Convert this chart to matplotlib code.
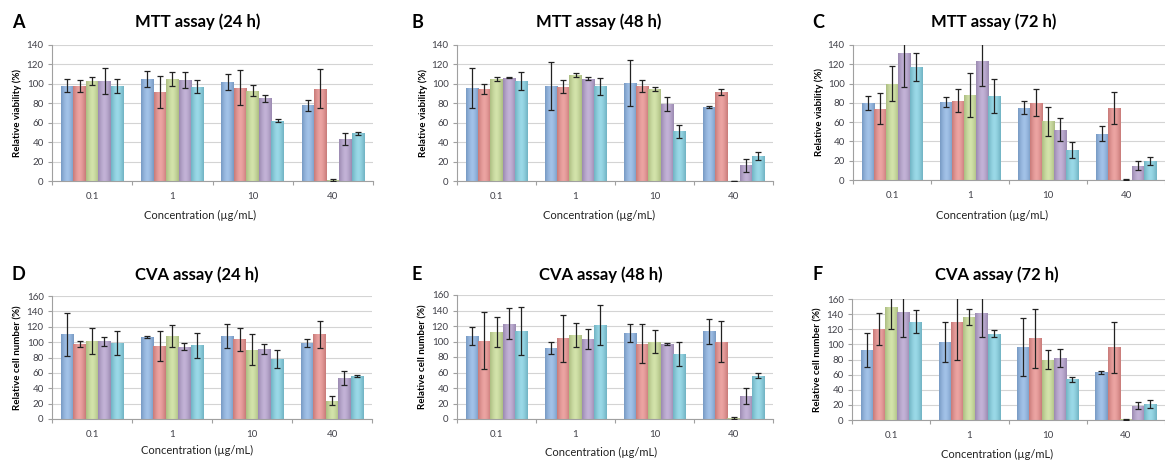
import numpy as np
import matplotlib
matplotlib.use("Agg")
import matplotlib.pyplot as plt
from matplotlib.colors import to_rgb

plt.rcParams['font.family'] = ['Lato', 'DejaVu Sans']

concs = ["0.1", "1", "10", "40"]
bar_colors = ['#8BB3E3', '#E88E8C', '#C8DC96', '#B4A0CD', '#82D0E2']

# MTT assay 24 h (blue, red, green, purple, cyan)
mtt24 = [[98, 105, 102, 78], [98, 92, 96, 95], [103, 105, 93, 1.5],
         [103, 104, 85, 43], [98, 97, 62, 49]]
mtt24_err = [[6.5, 8, 8.5, 5.5], [6, 16.5, 18, 20], [4.5, 7, 6, 1],
             [13, 8.5, 4, 6], [7, 6.5, 1.5, 1.5]]

# MTT assay 48 h
mtt48 = [[96, 98, 101, 76], [95, 97, 98, 92], [105, 109, 95, 0],
         [106.5, 105.5, 79, 16], [103, 97.5, 51, 26]]
mtt48_err = [[20.5, 25, 24, 1], [5, 6.5, 6, 3], [2, 2, 2, 0],
             [0.7, 2, 7, 6.5], [9, 8.5, 7, 4]]

# MTT assay 72 h
mtt72 = [[80, 81, 75, 48], [74, 82, 80, 75], [100, 88, 61, 0.5],
         [132, 123, 52, 15], [117, 87, 31, 20]]
mtt72_err = [[7.5, 5, 7, 7.5], [16, 12, 14, 16.5], [18, 22.5, 15, 0.3],
             [36, 26, 12, 5], [14.5, 18, 8.5, 4]]

# CVA assay 24 h
cva24 = [[110, 107, 108, 99], [98, 95, 104, 110], [102, 108, 90, 24],
         [101, 94, 91, 53], [99, 96, 78, 56]]
cva24_err = [[27.5, 1.5, 15.5, 5], [4, 20, 15, 17.5], [17, 14.5, 20, 5.5],
             [5.5, 4.5, 7, 9], [16, 16, 12, 1.5]]

# CVA assay 48 h
cva48 = [[107, 92, 111, 113], [101, 104, 97, 100], [112, 109, 100, 1.5],
         [123, 103, 97, 30], [114, 121, 84, 56]]
cva48_err = [[12, 7.5, 12, 16], [36.5, 30, 25, 26.5], [19.5, 15.5, 15, 1.5],
             [20, 12.5, 1.5, 10.5], [31, 25.5, 16, 3.5]]

# CVA assay 72 h
cva72 = [[92, 103, 97, 63], [120, 130, 108, 96], [149, 136, 80, 1],
         [143, 142, 82, 19], [130, 114, 54, 21]]
cva72_err = [[22.5, 26.5, 38.5, 2], [21, 51, 39, 34], [29, 10.5, 12.5, 0.5],
             [33, 32, 11.5, 5], [15, 4.5, 3.5, 5]]

panels = [
    ("A", "MTT assay (24 h)", mtt24, mtt24_err, 140, "Relative viability (%)"),
    ("B", "MTT assay (48 h)", mtt48, mtt48_err, 140, "Relative viability (%)"),
    ("C", "MTT assay (72 h)", mtt72, mtt72_err, 140, "Relative viability (%)"),
    ("D", "CVA assay (24 h)", cva24, cva24_err, 160, "Relative cell number (%)"),
    ("E", "CVA assay (48 h)", cva48, cva48_err, 160, "Relative cell number (%)"),
    ("F", "CVA assay (72 h)", cva72, cva72_err, 160, "Relative cell number (%)"),
]

W, H = 1165, 461
# axes boxes in pixels: left, top, right, bottom
boxes = [(52, 45, 373, 181), (457, 45, 773, 181), (853, 45, 1165, 180),
         (52, 296, 372, 419), (457, 295, 773, 419), (852, 299, 1165, 420)]
title_x = [198, 599, 994, 197, 601, 997]
letter_x = [18, 417, 818, 18, 417, 818]
xlab_pos = [(200, 215), (599, 215), (992, 215), (197, 450), (601, 452), (997, 454)]


def gradient(color, n=32):
    c = np.array(to_rgb(color))
    t = np.linspace(-1, 1, n)
    w = np.abs(t) ** 1.5
    light = c + (1 - c) * 0.2
    dark = c * 0.86
    row = light[None, :] * (1 - w[:, None]) + dark[None, :] * w[:, None]
    return row[None, :, :]


fig = plt.figure(figsize=(W / 100, H / 100), dpi=100)

for i, (letter, title, vals, errs, ymax, ylab) in enumerate(panels):
    l, t, r, b = boxes[i]
    ax = fig.add_axes([l / W, 1 - b / H, (r - l) / W, (b - t) / H])
    x = np.arange(len(concs))
    bw = 0.156
    for k in range(5):
        pos = x + (k - 2) * bw
        bars = ax.bar(pos, vals[k], width=bw, color=bar_colors[k],
                      edgecolor='none', zorder=2)
        grad = gradient(bar_colors[k])
        for p in bars:
            if p.get_height() <= 0:
                continue
            im = ax.imshow(grad, extent=[p.get_x(), p.get_x() + p.get_width(),
                                         0, p.get_height()],
                           aspect='auto', zorder=2.5, interpolation='bicubic')
            im.set_clip_path(p)
        ax.errorbar(pos, vals[k], yerr=errs[k], fmt='none', ecolor='#222222',
                    elinewidth=0.9, capsize=2.2, capthick=0.9, zorder=4)
    ax.set_xlim(-0.5, 3.5)
    ax.set_ylim(0, ymax)
    ax.set_aspect('auto')
    ax.set_yticks(np.arange(0, ymax + 1, 20))
    ax.set_xticks(x)
    ax.set_xticklabels(concs)
    ax.set_xticks(np.arange(-0.5, 4, 1), minor=True)
    ax.tick_params(axis='x', which='major', length=0, pad=8,
                   labelsize=7, labelcolor='#404048')
    ax.tick_params(axis='x', which='minor', length=3, color='#a0a0a0', width=0.8)
    ax.tick_params(axis='y', length=3, color='#a0a0a0', width=0.8,
                   labelsize=7, labelcolor='#404048', pad=3)
    ax.grid(axis='y', color='#d4d4d4', linewidth=0.8, zorder=0)
    ax.set_axisbelow(True)
    for s in ['top', 'right']:
        ax.spines[s].set_visible(False)
    for s in ['left', 'bottom']:
        ax.spines[s].set_color('#a0a0a0')
        ax.spines[s].set_linewidth(0.8)
    ax.set_ylabel(ylab, fontsize=7, fontweight='bold', labelpad=3)

    xl, yl = xlab_pos[i]
    fig.text(xl / W, 1 - yl / H, "Concentration (µg/mL)", fontsize=8,
             color='#222222', ha='center', va='center')

    ty = 22 if i < 3 else 275
    fig.text(title_x[i] / W, 1 - ty / H, title, fontsize=12,
             fontweight='bold', ha='center', va='center')
    fig.text(letter_x[i] / W, 1 - ty / H, letter, fontsize=13,
             fontweight='bold', ha='center', va='center')

fig.savefig("out.png", dpi=100)
